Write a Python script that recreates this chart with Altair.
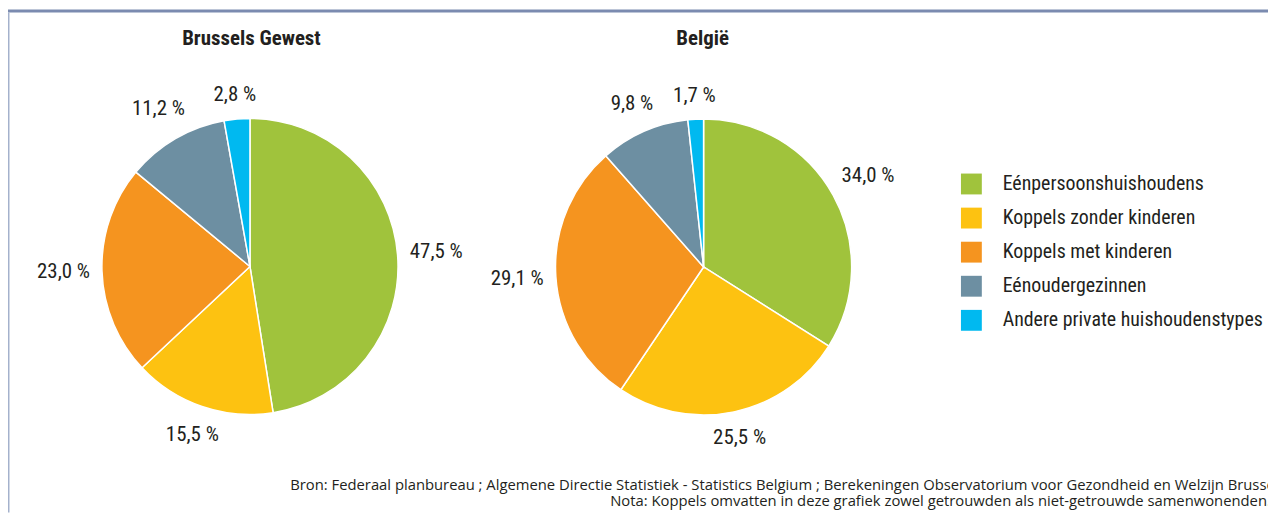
import altair as alt
import pandas as pd

categories = ["Eénpersoonshuishoudens", "Koppels zonder kinderen", "Koppels met kinderen",
              "Eénoudergezinnen", "Andere private huishoudenstypes"]
colors = ["#a0c33c", "#fdc211", "#f5941f", "#6d8fa2", "#00b9f0"]
brussels = [47.5, 15.5, 23.0, 11.2, 2.8]
belgie = [34.0, 25.5, 29.1, 9.8, 1.7]
titles = ["Brussels Gewest", "België"]
source_lines = [
    "Bron: Federaal planbureau ; Algemene Directie Statistiek - Statistics Belgium ; Berekeningen Observatorium voor Gezondheid en Welzijn Brussel",
    "Nota: Koppels omvatten in deze grafiek zowel getrouwden als niet-getrouwde samenwonenden.",
]

rows = []
for region, vals in (("Brussels", brussels), ("Belgie", belgie)):
    for i, (c, v) in enumerate(zip(categories, vals)):
        rows.append({"region": region, "cat": c, "value": v, "order": i,
                     "label": f"{v:.1f}".replace(".", ",") + " %"})
df = pd.DataFrame(rows)

FONT_C = "Roboto Condensed, Open Sans Condensed, Noto Sans Condensed, Liberation Sans Narrow, DejaVu Sans Condensed, sans-serif"
FONT = "Open Sans, Liberation Sans, sans-serif"
TXT = "#231f20"
R = 149
centers = {"Brussels": (243.5, 258.5), "Belgie": (700, 259)}

base = alt.Chart(df)
layers = []
for idx, region in enumerate(["Brussels", "Belgie"]):
    cx, cy = centers[region]
    sub = base.transform_filter(alt.datum.region == region)
    arc = sub.mark_arc(radius=R, stroke="white", strokeWidth=1.5).encode(
        theta=alt.Theta("value:Q", stack=True),
        order=alt.Order("order:Q"),
        color=alt.Color("cat:N", scale=alt.Scale(domain=categories, range=colors),
                        sort=categories,
                        legend=alt.Legend(title=None) if idx == 0 else None),
        x=alt.value(cx), y=alt.value(cy),
    )
    txt = sub.transform_window(
        cum="sum(value)", sort=[alt.SortField("order")], frame=[None, 0]
    ).transform_joinaggregate(total="sum(value)").transform_calculate(
        mid="2*PI*(datum.cum - datum.value/2)/datum.total",
        lr="161 + 4.4*length(datum.label)*abs(sin(datum.mid)) + 10*abs(cos(datum.mid))",
    ).mark_text(font=FONT_C, fontSize=21, color=TXT, baseline="middle", align="center").encode(
        theta=alt.Theta("mid:Q", scale=None),
        radius=alt.Radius("lr:Q", scale=None),
        text="label:N",
        x=alt.value(cx), y=alt.value(cy),
    )
    layers += [arc, txt]

tdf = pd.DataFrame({"t": titles, "x": [245, 699]})
title_layer = alt.Chart(tdf).mark_text(font=FONT_C, fontSize=21, fontWeight="bold",
                                       color=TXT, baseline="middle").encode(
    text="t:N", x=alt.X("x:Q", scale=None), y=alt.value(30))

sdf = pd.DataFrame({"t": source_lines, "x": [284, 606], "y": [479, 496]})
src_layer = alt.Chart(sdf).mark_text(font=FONT, fontSize=14.9, color=TXT, align="left",
                                     baseline="middle").encode(
    text="t:N", x=alt.X("x:Q", scale=None), y=alt.Y("y:Q", scale=None))

one = pd.DataFrame({"a": [0]})
band = alt.Chart(one).mark_rect(color="#7b8bb0").encode(
    x=alt.value(0), x2=alt.value(1268), y=alt.value(0), y2=alt.value(3))
border = alt.Chart(one).mark_rect(color="#a4b1cc").encode(
    x=alt.value(0), x2=alt.value(1.5), y=alt.value(3), y2=alt.value(506))

chart = alt.layer(band, border, *layers, title_layer, src_layer).resolve_scale(
    theta="independent", radius="independent", x="independent", y="independent"
).properties(
    width=1268, height=506, padding=0, autosize=alt.AutoSizeParams(type="none")
).configure_view(stroke=None).configure_legend(
    orient="none", legendX=959, legendY=165, padding=0,
    symbolType="square", symbolSize=441, symbolStrokeWidth=0,
    labelFont=FONT_C, labelFontSize=20, labelColor=TXT, labelOffset=21,
    rowPadding=13.3, labelLimit=400,
)

chart.save("out.html", embed_options={"renderer": "svg", "actions": False})
